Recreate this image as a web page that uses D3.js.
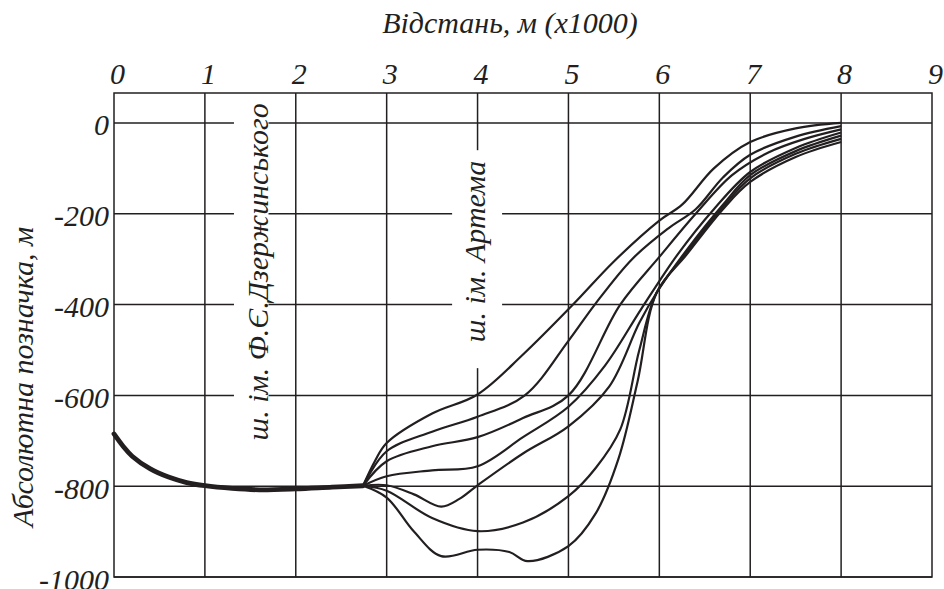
<!DOCTYPE html>
<head>
  <meta charset="utf-8">
  <script src="https://d3js.org/d3.v7.min.js"></script>
  <style>
    body { margin: 0; background: #fff; }
  </style>
</head>
<body>
  <svg width="944" height="589"></svg>
  <script>
    // distance in km (x1000 m) vs absolute mark, m
    const xTicks = [0, 1, 2, 3, 4, 5, 6, 7, 8, 9];
    const yTicks = [0, -200, -400, -600, -800, -1000];

    // main (thick) profile up to the fan point
    const baseLine = [[0, -685], [0.1, -712], [0.2, -734], [0.4, -762], [0.6, -780], [0.8, -792],
      [1, -799], [1.3, -805], [1.6, -808], [2, -806], [2.4, -802], [2.74, -799]];

    // seven profiles fanning out from the fan point
    const curveA = [[2.74, -799], [2.87, -745], [3, -705], [3.5, -640], [4, -598], [4.5, -510],
      [5.05, -400], [5.5, -305], [6, -215], [6.25, -180], [6.6, -100], [7, -42], [7.5, -12], [8, 0]];
    const curveB = [[2.74, -799], [3, -723], [3.5, -680], [4, -647], [4.52, -600], [5, -480],
      [5.29, -400], [5.7, -300], [6.1, -232], [6.4, -190], [6.7, -120], [7, -70], [7.5, -30], [8, -7]];
    const curveC = [[2.74, -799], [3, -745], [3.5, -712], [4, -692], [4.5, -650], [5, -600],
      [5.57, -400], [6, -295], [6.4, -200], [6.8, -115], [7.2, -65], [7.6, -35], [8, -14]];
    const curveD = [[2.74, -799], [3, -778], [3.5, -765], [4, -756], [4.5, -692], [5, -625],
      [5.4, -535], [5.8, -410], [6.2, -290], [6.6, -190], [7, -108], [7.5, -55], [8, -21]];
    const curveE = [[2.74, -799], [3, -798], [3.3, -818], [3.6, -845], [3.8, -828], [4, -798],
      [4.5, -728], [5, -668], [5.45, -580], [5.78, -440], [5.97, -374], [6.3, -280], [6.7, -180],
      [7, -115], [7.5, -62], [8, -28]];
    const curveF = [[2.74, -799], [3, -810], [3.5, -870], [4, -899], [4.5, -880], [5, -822],
      [5.3, -760], [5.57, -675], [5.78, -500], [5.97, -374], [6.3, -285], [6.7, -185], [7, -122],
      [7.5, -68], [8, -35]];
    const curveG = [[2.74, -799], [3, -825], [3.3, -900], [3.6, -954], [4, -940], [4.35, -945],
      [4.55, -965], [5, -932], [5.3, -860], [5.55, -740], [5.76, -570], [5.97, -374], [6.3, -290],
      [6.7, -190], [7, -130], [7.5, -75], [8, -42]];
    const fan = [curveA, curveB, curveC, curveD, curveE, curveF, curveG];

    const xTitle = 'Відстань, м (x1000)';
    const yTitle = 'Абсолютна позначка, м';
    const shaftLabels = [
      { text: 'ш. ім. Ф.Є.Дзержинського', x: 1.6, y: -328, box: [1.32, 1.7, -697, 50] },
      { text: 'ш. ім. Артема', x: 4.0, y: -283, box: [3.72, 4.27, -540, -60] }
    ];

    const svg = d3.select('svg');
    const x = d3.scaleLinear().domain([0, 9]).range([114, 932]);
    const y = d3.scaleLinear().domain([-1000, 66]).range([577, 93]);
    const ink = '#231f20';
    const serif = '"Liberation Serif", "Times New Roman", serif';

    // grid
    const grid = svg.append('g').attr('stroke', ink).attr('stroke-width', 1.5);
    grid.selectAll('line.v').data(xTicks.slice(1, -1)).enter().append('line')
      .attr('x1', d => x(d)).attr('x2', d => x(d)).attr('y1', y(66)).attr('y2', y(-1000));
    grid.selectAll('line.h').data(yTicks).enter().append('line')
      .attr('x1', x(0)).attr('x2', x(9)).attr('y1', d => y(d)).attr('y2', d => y(d));

    // white gaps behind the shaft labels
    svg.selectAll('rect.gap').data(shaftLabels).enter().append('rect')
      .attr('fill', '#fff')
      .attr('x', d => x(d.box[0])).attr('width', d => x(d.box[1]) - x(d.box[0]))
      .attr('y', d => y(d.box[3])).attr('height', d => y(d.box[2]) - y(d.box[3]));

    // frame
    svg.append('rect').attr('x', x(0)).attr('y', y(66))
      .attr('width', x(9) - x(0)).attr('height', y(-1000) - y(66))
      .attr('fill', 'none').attr('stroke', ink).attr('stroke-width', 1.5);

    // axes (labels only)
    const xAxis = svg.append('g').attr('transform', 'translate(3,84)')
      .call(d3.axisTop(x).tickValues(xTicks).tickSize(0).tickPadding(0).tickFormat(d3.format('d')));
    const yAxis = svg.append('g').attr('transform', 'translate(109,12)')
      .call(d3.axisLeft(y).tickValues(yTicks).tickSize(0).tickPadding(0).tickFormat(d => d === 0 ? '0' : '-' + Math.abs(d)));
    [xAxis, yAxis].forEach(a => {
      a.select('.domain').remove();
      a.selectAll('text').attr('dy', 0).attr('fill', ink)
        .style('font-family', serif).style('font-style', 'italic').style('font-size', '30px');
    });

    const label = sel => sel.attr('fill', ink).style('font-family', serif)
      .style('font-style', 'italic').style('font-size', '30px');

    svg.append('text').attr('x', 510).attr('y', 33).attr('text-anchor', 'middle')
      .call(label).text(xTitle);
    svg.append('text').attr('transform', 'translate(33,377) rotate(-90)')
      .attr('text-anchor', 'middle').call(label).text(yTitle);

    svg.selectAll('text.shaft').data(shaftLabels).enter().append('text')
      .attr('class', 'shaft')
      .attr('transform', (d, i) => `translate(${x(d.x) + (i === 0 ? 9 : 7)},${y(d.y)}) rotate(-90)`)
      .attr('text-anchor', 'middle').call(label).text(d => d.text);

    // profiles
    const line = d3.line().x(d => x(d[0])).y(d => y(d[1])).curve(d3.curveCatmullRom.alpha(0.5));
    svg.append('g').selectAll('path').data(fan).enter().append('path')
      .attr('d', line).attr('fill', 'none').attr('stroke', ink).attr('stroke-width', 2.2);
    svg.append('path').attr('d', line(baseLine)).attr('fill', 'none')
      .attr('stroke', ink).attr('stroke-width', 4.8).attr('stroke-linecap', 'round');
  </script>
</body>
